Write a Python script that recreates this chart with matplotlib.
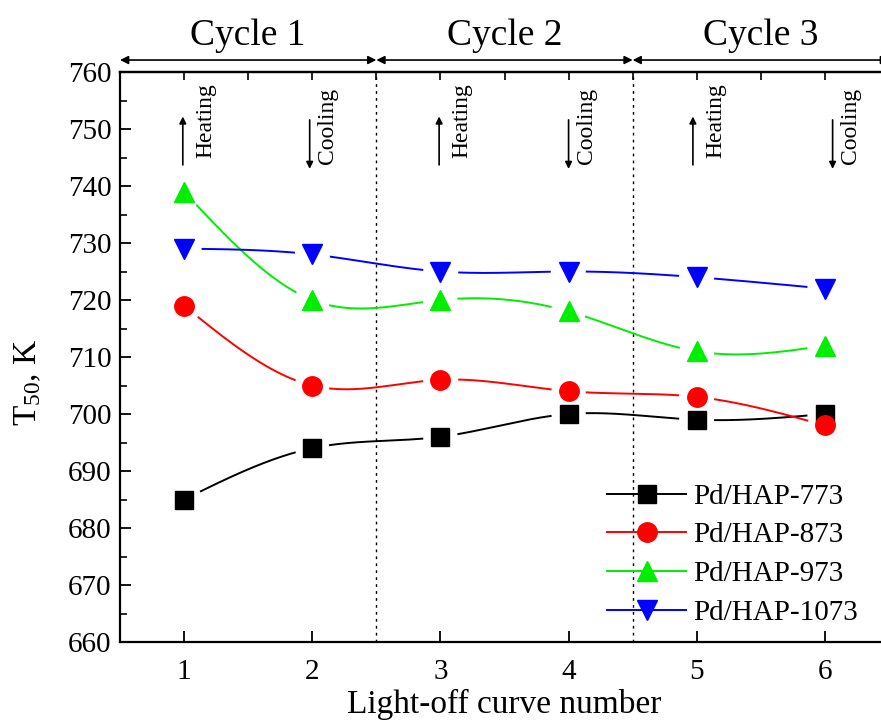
import numpy as np
import matplotlib
matplotlib.use("Agg")
import matplotlib.pyplot as plt
from matplotlib.ticker import MultipleLocator

plt.rcParams["font.family"] = ["Liberation Serif", "DejaVu Serif"]
plt.rcParams["mathtext.default"] = "regular"

# Light-off curve number and T50 values (K) for each catalyst
curve_no = [1, 2, 3, 4, 5, 6]
t50_773 = [685, 694, 696, 700, 699, 700]
t50_873 = [719, 705, 706, 704, 703, 698]
t50_973 = [739, 720, 720, 718, 711, 712]
t50_1073 = [729, 728, 725, 725, 724, 722]

series_labels = ["Pd/HAP-773", "Pd/HAP-873", "Pd/HAP-973", "Pd/HAP-1073"]
series_values = [t50_773, t50_873, t50_973, t50_1073]
series_colors = ["black", "red", "#00ee00", "blue"]
series_markers = ["s", "o", "^", "v"]
series_ms = [13, 14, 15, 15]

cycle_labels = ["Cycle 1", "Cycle 2", "Cycle 3"]
cycle_bounds = [0.5, 2.5, 4.5, 6.5]


def natural_spline(x, y, xs):
    x = np.asarray(x, float)
    y = np.asarray(y, float)
    n = len(x)
    h = np.diff(x)
    A = np.zeros((n, n))
    b = np.zeros(n)
    A[0, 0] = A[-1, -1] = 1.0
    for i in range(1, n - 1):
        A[i, i - 1] = h[i - 1]
        A[i, i] = 2 * (h[i - 1] + h[i])
        A[i, i + 1] = h[i]
        b[i] = 6 * ((y[i + 1] - y[i]) / h[i] - (y[i] - y[i - 1]) / h[i - 1])
    M = np.linalg.solve(A, b)
    idx = np.clip(np.searchsorted(x, xs) - 1, 0, n - 2)
    x0, x1 = x[idx], x[idx + 1]
    hh = x1 - x0
    t0 = x1 - xs
    t1 = xs - x0
    return (M[idx] * t0 ** 3 / (6 * hh) + M[idx + 1] * t1 ** 3 / (6 * hh)
            + (y[idx] / hh - M[idx] * hh / 6) * t0
            + (y[idx + 1] / hh - M[idx + 1] * hh / 6) * t1)


fig = plt.figure(figsize=(8.81, 7.25), dpi=100)
ax = fig.add_axes([120 / 881, 1 - 642 / 725, 769 / 881, 570 / 725])
ax.set_xlim(0.5, 6.5)
ax.set_ylim(660, 760)

# Smooth curves with a small gap around each marker
xs = np.linspace(curve_no[0], curve_no[-1], 800)
for vals, col, mk, ms, lab in zip(series_values, series_colors, series_markers,
                                  series_ms, series_labels):
    ys = natural_spline(curve_no, vals, xs)
    pts = ax.transData.transform(np.column_stack([xs, ys]))
    mpts = ax.transData.transform(np.column_stack([curve_no, vals]))
    d = np.min(np.hypot(pts[:, None, 0] - mpts[None, :, 0],
                        pts[:, None, 1] - mpts[None, :, 1]), axis=1)
    ys_gap = np.where(d < 18, np.nan, ys)
    ax.plot(xs, ys_gap, color=col, lw=1.4, zorder=3)
    ax.plot(curve_no, vals, linestyle="none", marker=mk, markersize=ms,
            color=col, markeredgecolor=col, zorder=4)
    # legend proxy
    ax.plot([], [], color=col, lw=1.4, marker=mk, markersize=ms,
            markeredgecolor=col, label=lab)

# Cycle separators
for xb in cycle_bounds[1:-1]:
    ax.axvline(xb, color="black", lw=1.0, linestyle=(0, (2, 3)), zorder=2)

# Cycle arrows and labels above the axes
for i, lab in enumerate(cycle_labels):
    x0, x1 = cycle_bounds[i], cycle_bounds[i + 1]
    ax.annotate("", xy=(x1, 762.1), xytext=(x0, 762.1), annotation_clip=False,
                arrowprops=dict(arrowstyle="<|-|>", color="black", lw=1.2,
                                mutation_scale=12, shrinkA=0, shrinkB=0))
    ax.text((x0 + x1) / 2, 766.3, lab, ha="center", va="center",
            fontsize=27, clip_on=False)

# Heating / cooling markers
heat_x = [0.99, 2.99, 4.97]
cool_x = [1.98, 4.0, 6.06]
for hx in heat_x:
    ax.annotate("", xy=(hx, 752.2), xytext=(hx, 743.7),
                arrowprops=dict(arrowstyle="-|>", color="black", lw=1.2,
                                mutation_scale=10, shrinkA=0, shrinkB=0))
    ax.text(hx + 0.18, 758.1, "Heating", rotation=90, ha="center", va="top",
            fontsize=17)
for cx in cool_x:
    ax.annotate("", xy=(cx, 743.0), xytext=(cx, 751.6),
                arrowprops=dict(arrowstyle="-|>", color="black", lw=1.2,
                                mutation_scale=10, shrinkA=0, shrinkB=0))
    ax.text(cx + 0.14, 757.2, "Cooling", rotation=90, ha="center", va="top",
            fontsize=17)

# Axes styling
for s in ax.spines.values():
    s.set_linewidth(1.6)
ax.xaxis.set_major_locator(MultipleLocator(1))
ax.yaxis.set_major_locator(MultipleLocator(10))
ax.yaxis.set_minor_locator(MultipleLocator(5))
ax.tick_params(axis="both", which="major", direction="in", length=8, width=1.3,
               labelsize=21)
ax.tick_params(axis="y", which="minor", direction="in", length=5, width=1.2)
ax.tick_params(axis="y", pad=6)
ax.tick_params(axis="x", pad=12)

top = ax.secondary_xaxis("top")
top.xaxis.set_major_locator(MultipleLocator(0.5))
top.tick_params(direction="in", length=6, width=1.2, labeltop=False)
top.spines["top"].set_linewidth(1.6)

ax.set_xlabel("Light-off curve number", fontsize=24, labelpad=3)
ax.set_ylabel("T$_{50}$, K", fontsize=24, va="center")
ax.yaxis.set_label_coords(-0.12, 0.456)

leg = ax.legend(loc="lower right", bbox_to_anchor=(0.975, 0.008), frameon=False,
                fontsize=21, handlelength=2.7, handletextpad=0.25,
                labelspacing=0.42, borderaxespad=0.0)

fig.savefig("out.png", dpi=100)
